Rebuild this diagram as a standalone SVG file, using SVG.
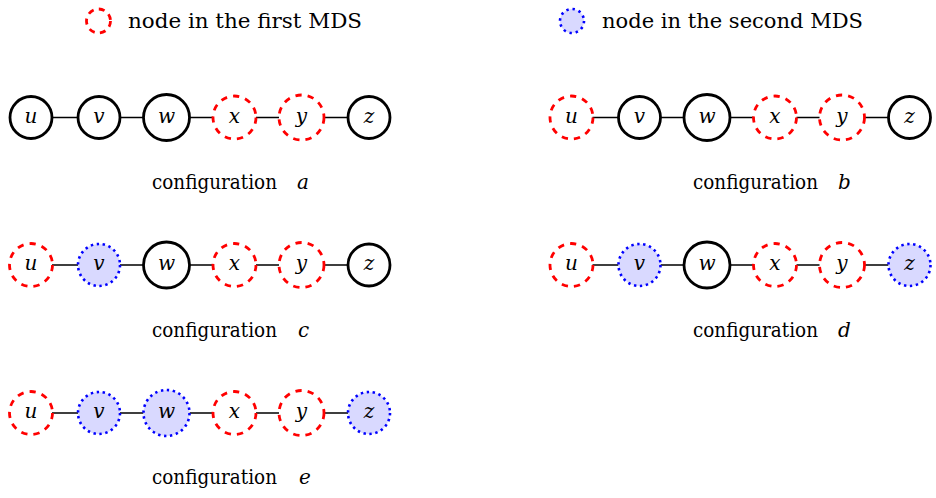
<svg xmlns="http://www.w3.org/2000/svg" width="936" height="498" viewBox="0 0 936 498">
<style>
  .bk { fill: #ffffff; stroke: #000000; stroke-width: 2.8; }
  .rd { fill: none; stroke: #ff0000; stroke-width: 2.8; stroke-dasharray: 6.3 6.1; }
  .bl { fill: #d9d9ff; stroke: #0000ff; stroke-width: 2.6; stroke-dasharray: 2.4 3.6; }
  text { font-family: 'DejaVu Serif', 'Liberation Serif', serif; fill: #000; }
  .lb { font-style: italic; font-size: 20px; text-anchor: middle; }
  .tx { font-size: 20px; }
  .it { font-style: italic; font-size: 20px; }
  .ed { stroke: #000; stroke-width: 1.6; fill: none; }
</style>

<g id="legend-first">
  <circle class="rd" cx="98.5" cy="21" r="12" style="stroke-dasharray:6 5.3"/>
  <text class="tx" x="128" y="28" textLength="234" lengthAdjust="spacingAndGlyphs">node in the first MDS</text>
</g>
<g id="legend-second">
  <circle class="bl" cx="572" cy="21" r="12" style="stroke-dasharray:2.4 3.9"/>
  <text class="tx" x="602" y="28" textLength="261" lengthAdjust="spacingAndGlyphs">node in the second MDS</text>
</g>

<g id="connectors">
  <path class="ed" d="M52 117.5H78M120 117.5H143.5M189.5 117.5H213M256 117.5H279M324 117.5H348"/>
  <path class="ed" d="M592.5 117.5H618.5M660.5 117.5H684M730 117.5H753.5M796.5 117.5H819.5M864.5 117.5H888.5"/>
  <path class="ed" d="M52 265H78M120 265H143.5M189.5 265H213M256 265H279M324 265H348"/>
  <path class="ed" d="M592.5 265H618.5M660.5 265H684M730 265H753.5M796.5 265H819.5M864.5 265H888.5"/>
  <path class="ed" d="M52 413H78M120 413H143.5M189.5 413H213M256 413H279M324 413H348"/>
</g>

<g id="a-u"><circle class="bk" cx="31" cy="117.5" r="21"/><text class="lb" x="31" y="122.5">u</text></g>
<g id="a-v"><circle class="bk" cx="99" cy="117.5" r="21"/><text class="lb" x="99" y="122.5">v</text></g>
<g id="a-w"><circle class="bk" cx="166.5" cy="117.5" r="23"/><text class="lb" x="166.5" y="122.5">w</text></g>
<g id="a-x"><circle class="rd" cx="234.5" cy="117.5" r="21.5"/><text class="lb" x="234.5" y="122.5">x</text></g>
<g id="a-y"><circle class="rd" cx="301.5" cy="117.5" r="22.5"/><text class="lb" x="301.5" y="122.5">y</text></g>
<g id="a-z"><circle class="bk" cx="369" cy="117.5" r="21"/><text class="lb" x="369" y="122.5">z</text></g>
<g id="label-a"><text class="tx" x="152" y="189" textLength="125" lengthAdjust="spacingAndGlyphs">configuration</text><text class="it" x="297" y="189">a</text></g>

<g id="b-u"><circle class="rd" cx="571.5" cy="117.5" r="21.5"/><text class="lb" x="571.5" y="122.5">u</text></g>
<g id="b-v"><circle class="bk" cx="639.5" cy="117.5" r="21"/><text class="lb" x="639.5" y="122.5">v</text></g>
<g id="b-w"><circle class="bk" cx="707" cy="117.5" r="23"/><text class="lb" x="707" y="122.5">w</text></g>
<g id="b-x"><circle class="rd" cx="775" cy="117.5" r="21.5"/><text class="lb" x="775" y="122.5">x</text></g>
<g id="b-y"><circle class="rd" cx="842" cy="117.5" r="22.5"/><text class="lb" x="842" y="122.5">y</text></g>
<g id="b-z"><circle class="bk" cx="909.5" cy="117.5" r="21"/><text class="lb" x="909.5" y="122.5">z</text></g>
<g id="label-b"><text class="tx" x="693" y="189" textLength="125" lengthAdjust="spacingAndGlyphs">configuration</text><text class="it" x="838" y="189">b</text></g>

<g id="c-u"><circle class="rd" cx="31" cy="265" r="21.5"/><text class="lb" x="31" y="270">u</text></g>
<g id="c-v"><circle class="bl" cx="99" cy="265" r="21"/><text class="lb" x="99" y="270">v</text></g>
<g id="c-w"><circle class="bk" cx="166.5" cy="265" r="23"/><text class="lb" x="166.5" y="270">w</text></g>
<g id="c-x"><circle class="rd" cx="234.5" cy="265" r="21.5"/><text class="lb" x="234.5" y="270">x</text></g>
<g id="c-y"><circle class="rd" cx="301.5" cy="265" r="22.5"/><text class="lb" x="301.5" y="270">y</text></g>
<g id="c-z"><circle class="bk" cx="369" cy="265" r="21"/><text class="lb" x="369" y="270">z</text></g>
<g id="label-c"><text class="tx" x="152" y="337" textLength="125" lengthAdjust="spacingAndGlyphs">configuration</text><text class="it" x="298" y="337">c</text></g>

<g id="d-u"><circle class="rd" cx="571.5" cy="265" r="21.5"/><text class="lb" x="571.5" y="270">u</text></g>
<g id="d-v"><circle class="bl" cx="639.5" cy="265" r="21"/><text class="lb" x="639.5" y="270">v</text></g>
<g id="d-w"><circle class="bk" cx="707" cy="265" r="23"/><text class="lb" x="707" y="270">w</text></g>
<g id="d-x"><circle class="rd" cx="775" cy="265" r="21.5"/><text class="lb" x="775" y="270">x</text></g>
<g id="d-y"><circle class="rd" cx="842" cy="265" r="22.5"/><text class="lb" x="842" y="270">y</text></g>
<g id="d-z"><circle class="bl" cx="909.5" cy="265" r="21"/><text class="lb" x="909.5" y="270">z</text></g>
<g id="label-d"><text class="tx" x="693" y="337" textLength="125" lengthAdjust="spacingAndGlyphs">configuration</text><text class="it" x="838" y="337">d</text></g>

<g id="e-u"><circle class="rd" cx="31" cy="413" r="21.5"/><text class="lb" x="31" y="418">u</text></g>
<g id="e-v"><circle class="bl" cx="99" cy="413" r="21"/><text class="lb" x="99" y="418">v</text></g>
<g id="e-w"><circle class="bl" cx="166.5" cy="413" r="23"/><text class="lb" x="166.5" y="418">w</text></g>
<g id="e-x"><circle class="rd" cx="234.5" cy="413" r="21.5"/><text class="lb" x="234.5" y="418">x</text></g>
<g id="e-y"><circle class="rd" cx="301.5" cy="413" r="22.5"/><text class="lb" x="301.5" y="418">y</text></g>
<g id="e-z"><circle class="bl" cx="369" cy="413" r="21"/><text class="lb" x="369" y="418">z</text></g>
<g id="label-e"><text class="tx" x="152" y="484" textLength="125" lengthAdjust="spacingAndGlyphs">configuration</text><text class="it" x="299" y="484">e</text></g>
</svg>
